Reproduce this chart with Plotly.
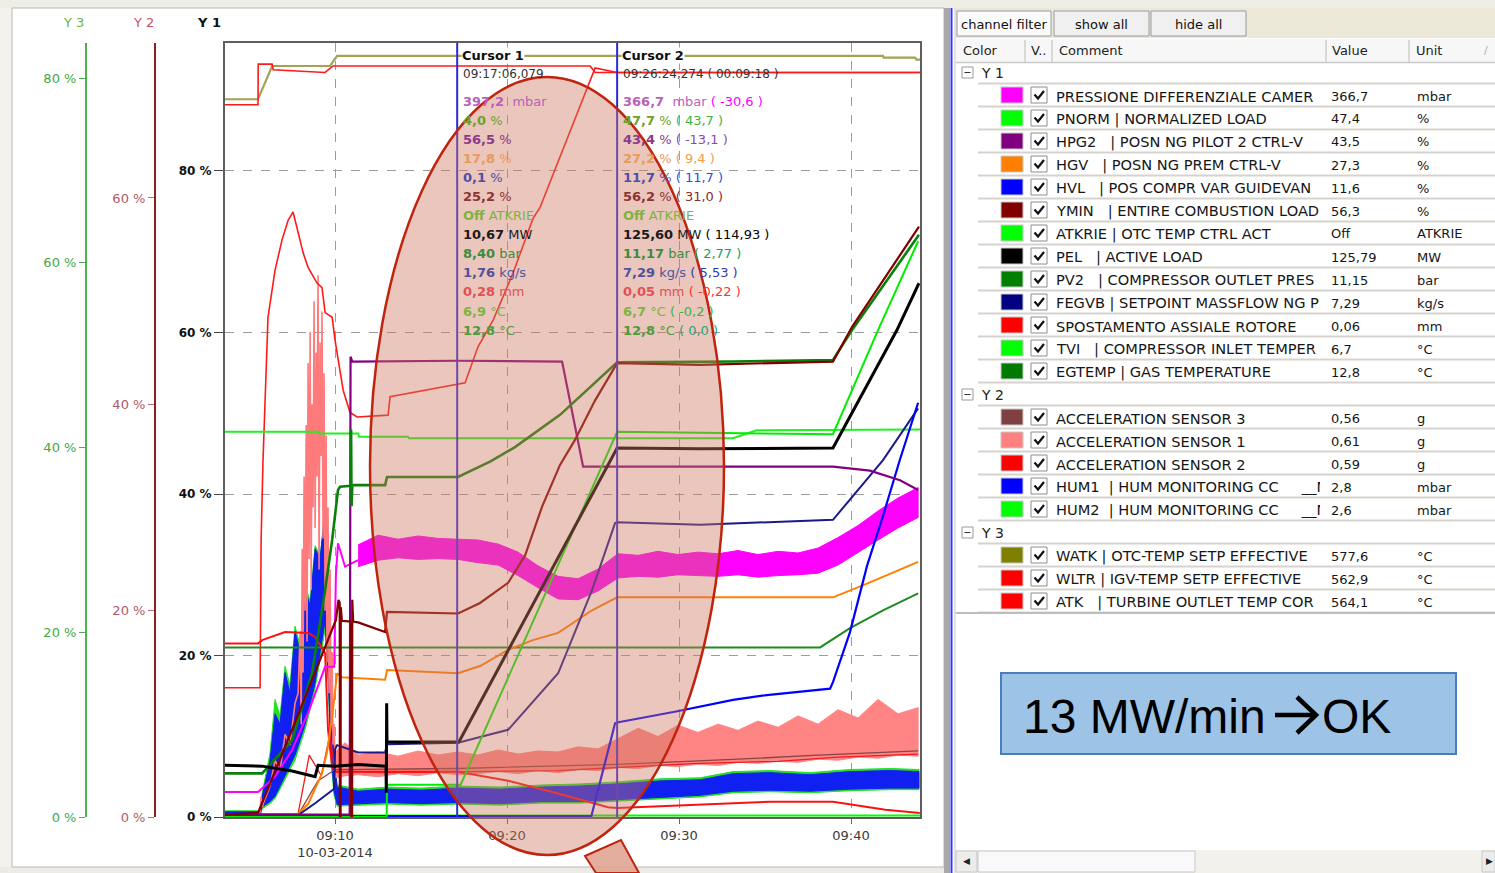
import pandas as pd
import plotly.graph_objects as go

W, H = 1495, 873
BASE = pd.Timestamp("2014-03-10 09:00:00")

# ---------------- Y1 channels (time: minutes after 09:00, value: % of Y1) ----------------
press_t = [3.60, 5.52, 6.51, 7.50, 8.43, 9.42, 9.95, 10.05, 10.17, 10.58, 11.34]
press_v = [3.1, 3.1, 5.0, 8.3, 12.9, 18.6, 18.6, 30.0, 33.9, 31.0, 31.8]
press_band_t = [11.34, 12.50, 13.66, 14.83, 15.99, 17.15, 18.31, 19.48, 20.64, 21.80, 22.97,
                24.13, 25.29, 26.45, 27.62, 28.78, 29.94, 31.10, 32.27, 33.43, 34.59, 35.76,
                36.92, 38.08, 39.24, 40.41, 41.57, 42.73, 43.90]
press_lo = [31.0, 31.8, 32.1, 31.9, 32.0, 31.9, 31.5, 31.2, 29.9, 28.4, 27.0, 26.9, 28.0, 29.6, 29.8,
            29.7, 30.0, 29.9, 29.8, 30.0, 29.7, 29.9, 30.0, 30.2, 31.2, 32.8, 34.3, 35.8, 37.1]
press_hi = [33.7, 34.9, 34.4, 34.8, 34.5, 34.4, 34.3, 33.8, 32.8, 31.1, 29.8, 29.5, 30.7, 32.6, 32.4,
            32.9, 32.5, 32.8, 32.6, 33.0, 32.5, 32.9, 32.7, 33.3, 34.6, 36.1, 37.9, 39.5, 40.8]

pnorm_t = [3.60, 13.00, 13.02, 17.30, 26.40, 33.14, 38.95, 41.57, 43.90]
pnorm_v = [0.0, 0.0, 4.0, 4.0, 47.7, 47.5, 47.4, 60.3, 71.3]

hpg2_t = [3.60, 10.85, 10.90, 11.00, 17.15, 23.20, 24.42, 26.40, 38.95, 41.10, 42.85, 43.90]
hpg2_v = [0.3, 0.3, 57.0, 56.4, 56.5, 56.4, 43.4, 43.4, 43.4, 42.9, 41.7, 40.5]

hgv_t = [3.60, 7.67, 8.43, 9.24, 9.53, 9.83, 10.12, 10.40, 12.91, 13.02, 17.15, 18.43, 20.06,
         21.50, 22.97, 24.94, 26.40, 38.95, 40.93, 43.90]
hgv_v = [0.0, 0.0, 1.6, 5.4, 8.0, 12.4, 17.8, 17.3, 17.0, 18.2, 17.8, 18.7, 20.7, 21.9, 22.8,
         25.6, 27.2, 27.2, 28.9, 31.6]

hvl_t = [3.60, 24.90, 26.28, 26.40, 29.90, 33.14, 35.10, 38.78, 38.95, 39.94, 40.93, 41.86, 42.85, 43.90]
hvl_v = [0.1, 0.1, 11.6, 11.7, 13.1, 14.5, 15.1, 15.9, 16.7, 22.9, 31.1, 37.3, 44.3, 51.3]

ymin_t = [3.60, 5.52, 7.50, 9.42, 10.05, 10.20, 10.27, 10.28, 10.32, 10.33, 10.40, 10.93, 10.94,
          10.99, 11.00, 11.05, 11.34, 12.91, 13.02, 17.15, 18.43, 20.06, 21.05, 22.03, 23.08,
          23.95, 25.12, 26.40, 31.22, 38.95, 40.06, 43.95]
ymin_v = [0.3, 0.5, 10.8, 21.1, 24.4, 26.9, 26.5, 0.0, 0.0, 26.0, 24.3, 24.2, 0.0, 0.0, 26.9,
          24.2, 24.1, 22.9, 25.4, 25.2, 26.5, 29.0, 32.4, 38.4, 43.6, 46.7, 51.6, 56.2, 56.0,
          56.4, 60.7, 73.1]

atkrie_t = [3.60, 44.01]
atkrie_v = [0.2, 0.2]

pel_t = [3.60, 5.76, 7.50, 8.84, 9.01, 10.00, 11.34, 12.96, 12.98, 13.00, 13.02, 17.20, 26.35,
         26.40, 31.22, 38.95, 42.67, 43.95]
pel_v = [6.4, 6.3, 5.7, 5.0, 6.4, 6.3, 6.5, 6.3, 3.0, 14.1, 9.3, 9.3, 45.5, 45.7, 45.6, 45.7, 60.3, 66.1]

pv2_t = [3.60, 5.76, 7.50, 8.66, 9.42, 9.83, 10.17, 10.29, 10.90, 10.93, 10.96, 11.00, 12.91,
         13.02, 17.15, 19.01, 20.46, 23.08, 26.40, 33.14, 38.95, 40.06, 43.95]
pv2_v = [5.4, 5.4, 9.5, 17.8, 28.1, 34.3, 40.5, 40.9, 41.0, 48.0, 38.5, 41.1, 41.1, 42.1, 42.1,
         44.0, 45.8, 49.8, 56.3, 56.4, 56.6, 60.3, 72.1]

fegvb_t = [3.60, 7.70, 8.84, 9.83, 9.95, 10.00, 10.12, 11.34, 12.91, 13.02, 17.15, 20.06, 22.97,
           24.94, 26.28, 26.40, 31.22, 38.95, 39.94, 41.86, 43.90]
fegvb_v = [0.0, 0.0, 1.7, 3.3, 3.5, 8.4, 8.9, 8.0, 8.0, 9.0, 9.2, 10.8, 17.8, 28.1, 36.4, 36.5,
           36.2, 36.8, 39.3, 44.2, 50.6]

spost_t = [3.60, 5.52, 5.76, 7.09, 8.43, 8.84, 9.42, 9.59, 9.83, 10.00, 17.15, 20.06, 22.97,
           25.87, 26.40, 30.06, 35.29, 38.95, 42.00, 44.00]
spost_v = [21.5, 21.5, 21.9, 22.9, 22.8, 22.3, 20.3, 10.8, 6.2, 5.6, 5.6, 4.5, 2.9, 1.2, 1.1,
           1.4, 1.9, 1.9, 0.9, 0.5]

tvi_t = [3.60, 9.01, 9.10, 11.34, 11.40, 14.24, 14.30, 33.14, 34.50, 44.01]
tvi_v = [47.7, 47.7, 47.5, 47.5, 47.1, 47.1, 46.9, 46.9, 47.9, 48.0]

egtemp_t = [3.60, 38.20, 39.94, 41.86, 43.90]
egtemp_v = [21.0, 21.0, 23.4, 25.6, 27.7]

# ---------------- Y2 channels (% of Y2) ----------------
hum_t = [3.60, 5.64, 5.76, 6.22, 6.51, 6.80, 7.09, 7.38, 7.67, 7.97, 8.26, 8.55, 8.84, 9.13,
         9.42, 9.59, 9.77, 9.94, 10.12, 11.34, 13.02, 15.00, 17.15, 19.60, 22.00, 24.24, 26.40,
         28.90, 31.22, 33.14, 35.29, 37.61, 39.94, 42.27, 43.95]
hum1_lo = [0.2, 0.2, 1.0, 1.5, 2.0, 3.0, 4.0, 5.0, 6.0, 7.5, 9.0, 11.0, 13.0, 16.0, 19.0, 14.0,
           6.0, 2.5, 1.2, 1.3, 1.4, 1.3, 1.4, 1.3, 1.5, 1.5, 1.7, 1.9, 2.1, 2.5, 2.6, 2.5, 2.7, 2.8, 2.8]
hum1_hi = [0.5, 0.5, 2.0, 5.5, 10.0, 9.0, 14.0, 12.0, 18.0, 16.0, 22.0, 20.5, 26.0, 25.0, 30.0,
           27.0, 12.0, 6.0, 2.9, 2.5, 2.7, 2.6, 2.8, 2.7, 2.9, 3.0, 3.2, 3.5, 3.6, 4.2, 4.3, 4.1, 4.4, 4.5, 4.4]
hum2_lo = [0.1, 0.1, 0.8, 1.3, 1.8, 2.7, 3.6, 4.6, 5.5, 7.0, 8.5, 10.4, 12.5, 15.3, 18.2, 13.2,
           5.4, 2.1, 1.05, 1.15, 1.25, 1.15, 1.25, 1.15, 1.35, 1.35, 1.55, 1.75, 1.95, 2.35, 2.45,
           2.35, 2.55, 2.65, 2.65]
hum2_hi = [0.6, 0.6, 2.3, 6.2, 11.4, 9.8, 14.6, 12.8, 18.5, 16.6, 22.3, 21.0, 26.3, 25.4, 29.0,
           26.0, 11.0, 5.5, 3.1, 2.7, 2.9, 2.8, 3.0, 2.9, 3.1, 3.2, 3.4, 3.7, 3.8, 4.4, 4.5, 4.3,
           4.6, 4.7, 4.6]

acc1_spk_t = [3.60, 5.52, 5.64, 5.70, 5.76, 6.22, 6.51, 6.80, 7.09, 7.38, 7.67, 7.85, 7.97, 8.03,
              8.09, 8.14, 8.20, 8.26, 8.32, 8.37, 8.43, 8.49, 8.55, 8.61, 8.66, 8.72, 8.78, 8.84,
              8.90, 8.95, 9.01, 9.07, 9.13, 9.19, 9.24, 9.30, 9.36, 9.42, 9.48, 9.53, 9.59, 9.65,
              9.71, 9.77, 9.83, 9.88, 9.94, 10.00]
acc1_spk_v = [0.3, 0.3, 0.5, 2.0, 1.0, 3.0, 5.5, 4.5, 8.0, 7.0, 11.0, 12.0, 18.0, 9.0, 26.0, 14.0,
              33.0, 20.0, 38.0, 17.0, 44.0, 25.0, 47.0, 22.0, 40.0, 30.0, 50.0, 28.0, 45.0, 33.0,
              52.5, 24.0, 46.0, 35.0, 49.0, 27.0, 43.0, 20.0, 37.0, 15.0, 30.0, 12.0, 24.0, 9.0,
              16.0, 7.0, 9.0, 5.5]
acc1_t = [10.00, 10.58, 11.34, 12.50, 13.66, 14.83, 15.99, 17.15, 18.31, 19.48, 20.64, 21.80,
          22.97, 24.13, 25.29, 26.45, 27.62, 28.78, 29.94, 31.10, 32.27, 33.43, 34.59, 35.76,
          36.92, 38.08, 39.24, 40.41, 41.57, 42.73, 43.90]
acc1_lo = [3.8, 4.0, 4.1, 3.9, 4.2, 4.0, 4.3, 4.1, 4.2, 4.4, 4.2, 4.5, 4.3, 4.6, 4.5, 4.8, 4.7,
           5.0, 4.9, 5.1, 5.0, 5.3, 5.2, 5.4, 5.3, 5.6, 5.5, 5.8, 5.7, 6.0, 5.9]
acc1_hi = [6.3, 7.2, 6.0, 6.3, 5.9, 6.4, 6.0, 6.3, 6.0, 6.5, 6.1, 6.4, 6.3, 6.8, 6.6, 7.6, 8.6,
           7.8, 8.9, 8.2, 9.0, 8.4, 9.3, 8.7, 9.8, 9.0, 10.4, 9.6, 11.4, 10.0, 10.6]

acc2_t = [3.60, 7.85, 8.50, 9.20, 9.70, 10.00, 13.02, 17.15, 22.97, 26.40, 31.10, 35.76, 39.24, 43.90]
acc2_v = [0.3, 0.3, 6.0, 4.0, 8.0, 4.4, 4.3, 4.4, 4.5, 4.8, 5.2, 5.4, 5.8, 6.1]
acc3_t = [3.60, 7.85, 9.00, 10.00, 17.15, 26.40, 33.43, 38.08, 43.90]
acc3_v = [0.2, 0.2, 3.5, 4.6, 4.7, 5.1, 5.6, 6.0, 6.4]

# ---------------- Y3 channels (% of Y3) ----------------
watk_t = [3.60, 5.52, 6.34, 9.71, 10.12, 41.86, 41.90, 43.72, 43.80, 44.01]
watk_v = [77.7, 77.7, 81.3, 81.3, 82.4, 82.4, 82.2, 82.2, 82.0, 82.0]
wltr_t = [3.60, 5.52, 5.53, 6.34, 6.40, 9.42, 9.88, 24.83, 25.12, 44.01]
wltr_v = [77.1, 77.1, 81.5, 81.5, 80.9, 80.6, 81.3, 81.3, 80.6, 80.6]
atk_t = [3.60, 5.64, 5.70, 5.81, 6.10, 6.51, 6.92, 7.27, 7.56, 8.14, 8.43, 8.95, 9.24, 9.42, 9.83,
         10.00, 10.47, 10.87, 11.28, 13.08, 13.20, 17.56, 18.31, 19.19, 20.35, 21.51, 21.92, 25.12,
         26.40, 44.01]
atk_v = [14.0, 14.0, 30.0, 38.6, 54.1, 59.2, 62.5, 64.6, 65.5, 61.1, 59.5, 57.8, 57.3, 54.6, 54.1,
         51.6, 46.2, 43.8, 43.3, 43.5, 45.5, 47.0, 50.9, 53.8, 58.9, 64.8, 66.0, 81.1, 80.6, 80.6]

# ---------------- axes ----------------
x_range_min = [3.60, 44.01]
x_tick_min = [10, 20, 30, 40]
x_tick_text = ["09:10<br>10-03-2014", "09:20", "09:30", "09:40"]
y1_ticks = [0, 20, 40, 60, 80]
y2_ticks = [0, 20, 40, 60]
y3_ticks = [0, 20, 40, 60, 80]
y1_max, y2_max, y3_max = 95.85, 75.02, 83.79

# ---------------- cursors ----------------
cursor_min = [17.10, 26.40]
cursor_titles = ["Cursor 1", "Cursor 2"]
cursor_times = ["09:17:06,079", "09:26:24,274 ( 00:09:18 )"]
cursor1_rows = [
    ("<b>397,2</b>  mbar", "#bb5fbb"), ("<b>4,0</b> %", "#6f9f2c"), ("<b>56,5</b> %", "#8c3b8c"),
    ("<b>17,8</b> %", "#e79a5c"), ("<b>0,1</b> %", "#4f4fa6"), ("<b>25,2</b> %", "#8b3535"),
    ("<b>Off</b> ATKRIE", "#7fb33f"), ("<b>10,67</b> MW", "#1a1a1a"), ("<b>8,40</b> bar", "#3d8b3d"),
    ("<b>1,76</b> kg/s", "#52529c"), ("<b>0,28</b> mm", "#e05252"), ("<b>6,9</b> °C", "#7fb33f"),
    ("<b>12,8</b> °C", "#4e9a3a")]
cursor2_rows = [
    ("<b>366,7</b>  mbar <span style='color:#ff00ff'>( -30,6 )</span>", "#bb5fbb"),
    ("<b>47,7</b> % <span style='color:#3cb43c'>( 43,7 )</span>", "#6f9f2c"),
    ("<b>43,4</b> % <span style='color:#8a4aa8'>( -13,1 )</span>", "#8c3b8c"),
    ("<b>27,2</b> % <span style='color:#f0a048'>( 9,4 )</span>", "#e79a5c"),
    ("<b>11,7</b> % <span style='color:#2f4fe0'>( 11,7 )</span>", "#4f4fa6"),
    ("<b>56,2</b> % <span style='color:#8b2a2a'>( 31,0 )</span>", "#8b3535"),
    ("<b>Off</b> ATKRIE", "#7fb33f"),
    ("<b>125,60</b> MW <span style='color:#000000'>( 114,93 )</span>", "#1a1a1a"),
    ("<b>11,17</b> bar <span style='color:#1aa05a'>( 2,77 )</span>", "#3d8b3d"),
    ("<b>7,29</b> kg/s <span style='color:#2b3bb8'>( 5,53 )</span>", "#52529c"),
    ("<b>0,05</b> mm <span style='color:#ff3030'>( -0,22 )</span>", "#e05252"),
    ("<b>6,7</b> °C <span style='color:#3cb43c'>( -0,2 )</span>", "#7fb33f"),
    ("<b>12,8</b> °C <span style='color:#2aa27a'>( 0,0 )</span>", "#4e9a3a")]

# ---------------- channel table (comments as shown in the narrow column) ----------------
group_names = ["Y 1", "Y 2", "Y 3"]
y1_comments = ["PRESSIONE DIFFERENZIALE CAMER", "PNORM | NORMALIZED LOAD",
               "HPG2\u00a0\u00a0 | POSN NG PILOT 2 CTRL-V", "HGV\u00a0\u00a0 | POSN NG PREM CTRL-V",
               "HVL\u00a0\u00a0 | POS COMPR VAR GUIDEVAN", "YMIN\u00a0\u00a0 | ENTIRE COMBUSTION LOAD",
               "ATKRIE | OTC TEMP CTRL ACT", "PEL\u00a0\u00a0 | ACTIVE LOAD",
               "PV2\u00a0\u00a0 | COMPRESSOR OUTLET PRES", "FEGVB | SETPOINT MASSFLOW NG P",
               "SPOSTAMENTO ASSIALE ROTORE", "TVI\u00a0\u00a0 | COMPRESSOR INLET TEMPER",
               "EGTEMP | GAS TEMPERATURE"]
y1_values = ["366,7", "47,4", "43,5", "27,3", "11,6", "56,3", "Off", "125,79", "11,15", "7,29",
             "0,06", "6,7", "12,8"]
y1_units = ["mbar", "%", "%", "%", "%", "%", "ATKRIE", "MW", "bar", "kg/s", "mm", "°C", "°C"]
y1_colors = ["#ff00ff", "#00ff00", "#800080", "#ff8000", "#0000ff", "#800000", "#00ff00",
             "#000000", "#008000", "#000080", "#ff0000", "#00ff00", "#007a00"]
y2_comments = ["ACCELERATION SENSOR 3", "ACCELERATION SENSOR 1", "ACCELERATION SENSOR 2",
               "HUM1\u00a0 | HUM MONITORING CC\u00a0\u00a0\u00a0\u00a0 __M",
               "HUM2\u00a0 | HUM MONITORING CC\u00a0\u00a0\u00a0\u00a0 __M"]
y2_values = ["0,56", "0,61", "0,59", "2,8", "2,6"]
y2_units = ["g", "g", "g", "mbar", "mbar"]
y2_colors = ["#804040", "#ff8080", "#ff0000", "#0000ff", "#00ff00"]
y3_comments = ["WATK | OTC-TEMP SETP EFFECTIVE", "WLTR | IGV-TEMP SETP EFFECTIVE",
               "ATK\u00a0\u00a0 | TURBINE OUTLET TEMP COR"]
y3_values = ["577,6", "562,9", "564,1"]
y3_units = ["°C", "°C", "°C"]
y3_colors = ["#808000", "#ff0000", "#ff0000"]

note_left = "13 MW/min"
note_right = "OK"

FONT = "DejaVu Sans"


def tm(minutes):
    return [BASE + pd.Timedelta(minutes=m) for m in minutes]


def px(x):
    return x / W


def py(y):
    return 1 - y / H


fig = go.Figure()


def add_line(t, v, color, width=2.0, axis="y4"):
    fig.add_trace(go.Scatter(x=tm(t), y=v, mode="lines", yaxis=axis,
                             line=dict(color=color, width=width), hoverinfo="skip",
                             showlegend=False))


def add_band(t, lo, hi, color, axis):
    fig.add_trace(go.Scatter(x=tm(t) + tm(t[::-1]), y=list(hi) + list(lo[::-1]), mode="lines",
                             yaxis=axis, fill="toself", fillcolor=color,
                             line=dict(color=color, width=1), hoverinfo="skip", showlegend=False))


# base Y1 subplot
add_line(atkrie_t, atkrie_v, "#00ff00", 2, "y")

# Y2 traces
add_band(hum_t, hum2_lo, hum2_hi, "#22e022", "y2")
add_band(hum_t, hum1_lo, hum1_hi, "#1020f0", "y2")
add_line(acc1_spk_t, acc1_spk_v, "#ff7a7a", 1.6, "y2")
add_band(acc1_t, acc1_lo, acc1_hi, "#ff8585", "y2")
add_line(acc3_t, acc3_v, "#8b4343", 1.3, "y2")
add_line(acc2_t, acc2_v, "#ee1c1c", 1.3, "y2")

# Y3 traces
add_line(watk_t, watk_v, "#a3a352", 2.2, "y3")
add_line(wltr_t, wltr_v, "#ff1a1a", 1.6, "y3")
add_line(atk_t, atk_v, "#ff1a1a", 1.6, "y3")

# remaining Y1 traces (drawn on top, same scale as Y1)
add_line(egtemp_t, egtemp_v, "#1f8a1f", 2, "y4")
add_line(tvi_t, tvi_v, "#22f022", 2, "y4")
add_line(spost_t, spost_v, "#ff1010", 2, "y4")
add_line(press_t, press_v, "#ff00ff", 2, "y4")
add_band(press_band_t, press_lo, press_hi, "#ff00ff", "y4")
add_line(hgv_t, hgv_v, "#ff8000", 2, "y4")
add_line(fegvb_t, fegvb_v, "#1a1a8c", 2, "y4")
add_line(hvl_t, hvl_v, "#0000ff", 2.2, "y4")
add_line(hpg2_t, hpg2_v, "#800080", 2.2, "y4")
add_line(pnorm_t, pnorm_v, "#00ee00", 2, "y4")
add_line(pv2_t, pv2_v, "#0a800a", 2.6, "y4")
add_line(ymin_t, ymin_v, "#800000", 2.2, "y4")
add_line(pel_t, pel_v, "#000000", 3.0, "y4")

plot_dom = [py(817), py(43)]

fig.update_layout(
    width=W, height=H, margin=dict(l=0, r=0, t=0, b=0, autoexpand=False),
    paper_bgcolor="white", plot_bgcolor="white", showlegend=False,
    xaxis=dict(domain=[px(225), px(920)], type="date", range=tm(x_range_min), automargin=False,
               tickvals=tm(x_tick_min), ticktext=x_tick_text, ticks="outside", ticklen=5,
               tickcolor="#666666", showline=True, linecolor="#5e5e5e", linewidth=2, mirror=True,
               showgrid=True, gridcolor="#9c9c9c", griddash="dash", gridwidth=1, zeroline=False,
               tickfont=dict(family=FONT, size=13, color="#3a3a3a"), anchor="y"),
    yaxis=dict(domain=plot_dom, range=[0, y1_max], tickvals=y1_ticks, automargin=False,
               ticktext=[f"<b>{v} %</b>" for v in y1_ticks], ticks="outside", ticklen=9,
               tickcolor="#444444", tickfont=dict(family=FONT, size=12, color="#111111"),
               showline=True, linecolor="#5e5e5e", linewidth=2, mirror=True, showgrid=True,
               gridcolor="#9c9c9c", griddash="dash", zeroline=False),
    yaxis2=dict(overlaying="y", anchor="free", position=px(155), side="left", range=[0, y2_max],
                tickvals=y2_ticks, ticktext=[f"{v} %" for v in y2_ticks], ticks="outside",
                ticklen=6, tickcolor="#b46a78", showline=True, linecolor="#8e1f1f", linewidth=2,
                showgrid=False, zeroline=False, automargin=False,
                tickfont=dict(family=FONT, size=13, color="#b0596a")),
    yaxis3=dict(overlaying="y", anchor="free", position=px(86), side="left", range=[0, y3_max],
                tickvals=y3_ticks, ticktext=[f"{v} %" for v in y3_ticks], ticks="outside",
                ticklen=6, tickcolor="#4caf50", showline=True, linecolor="#4caf50", linewidth=2,
                showgrid=False, zeroline=False, automargin=False,
                tickfont=dict(family=FONT, size=13, color="#45a845")),
    yaxis4=dict(overlaying="y", anchor="x", range=[0, y1_max], visible=False, automargin=False),
)

shapes = []
ann = []


def rect(x0, y0, x1, y1, fill=None, line=None, lw=1, layer="below"):
    shapes.append(dict(type="rect", xref="paper", yref="paper", x0=px(x0), x1=px(x1),
                       y0=py(y1), y1=py(y0), fillcolor=fill or "rgba(0,0,0,0)",
                       line=dict(color=line or "rgba(0,0,0,0)", width=lw if line else 0),
                       layer=layer))


def hline(x0, x1, y, color, lw=1, layer="below"):
    shapes.append(dict(type="line", xref="paper", yref="paper", x0=px(x0), x1=px(x1),
                       y0=py(y), y1=py(y), line=dict(color=color, width=lw), layer=layer))


def vline(x, y0, y1, color, lw=1):
    shapes.append(dict(type="line", xref="paper", yref="paper", x0=px(x), x1=px(x),
                       y0=py(y0), y1=py(y1), line=dict(color=color, width=lw), layer="below"))


def text(x, y, s, size=13, color="#111111", xanchor="left", family=FONT, **kw):
    ann.append(dict(xref="paper", yref="paper", x=px(x), y=py(y), text=s, showarrow=False,
                    xanchor=xanchor, yanchor="middle",
                    font=dict(family=family, size=size, color=color), **kw))


# window chrome around the chart panel
rect(0, 0, 1495, 8, fill="#eeede6")
rect(0, 8, 12, 873, fill="#f3f2ec")
rect(0, 867, 945, 873, fill="#ecebe5")
rect(12, 8, 944, 867, line="#b8b8b8", lw=1)
rect(944, 8, 950, 873, fill="#a9a9a9")
vline(951.5, 8, 873, "#3333ff", 2)
vline(955, 8, 873, "#c4c4c4", 1)

# axis captions
text(86, 22, "Y 3", 13, "#6cb33f", xanchor="right")
text(156, 22, "Y 2", 13, "#c4506a", xanchor="right")
text(223, 22, "<b>Y 1</b>", 13, "#111111", xanchor="right")

# ---- channel table panel ----
rect(956, 8, 1495, 38, fill="#ebe8d8")
rect(957, 11, 1051, 36, fill="#fbfbfb", line="#9a9a9a")
rect(1054, 11, 1149, 36, fill="#f0f0f0", line="#9a9a9a")
rect(1151, 11, 1246, 36, fill="#f0f0f0", line="#9a9a9a")
text(1004, 24, "channel filter", 13, "#111111", xanchor="center")
text(1101, 24, "show all", 13, "#111111", xanchor="center")
text(1198, 24, "hide all", 13, "#111111", xanchor="center")

rect(956, 39, 1495, 62, fill="#f7f7f7")
hline(956, 1495, 62.5, "#c9c9c9", 1.5)
for xs in [1025, 1052, 1326, 1409]:
    vline(xs, 40, 62, "#cfcfcf", 1.5)
text(961, 50, "Color", 13, "#222222")
text(1029, 50, "V..", 13, "#222222")
text(1057, 50, "Comment", 13, "#222222")
text(1330, 50, "Value", 13, "#222222")
text(1414, 50, "Unit", 13, "#222222")
text(1482, 50, "/", 11, "#b0b0b0")

groups = [(y1_comments, y1_values, y1_units, y1_colors),
          (y2_comments, y2_values, y2_units, y2_colors),
          (y3_comments, y3_values, y3_units, y3_colors)]
row_y = 72
for gname, (coms, vals, units, cols) in zip(group_names, groups):
    # group header
    rect(962, row_y - 5, 973, row_y + 6, fill="white", line="#9a9a9a")
    hline(964.5, 970.5, row_y + 0.5, "#333333", 1)
    text(979, row_y + 1, gname, 14, "#222222")
    hline(978, 1495, row_y + 11.5, "#d6d3ce", 2)
    row_y += 23
    for com, val, unit, col in zip(coms, vals, units, cols):
        rect(1001, row_y - 8, 1023, row_y + 8, fill=col, line="#c8c8c8")
        rect(1031, row_y - 8, 1047, row_y + 8, fill="white", line="#8c8c8c")
        shapes.append(dict(type="path", xref="paper", yref="paper", layer="below",
                           path=f"M {px(1034.5)},{py(row_y - 0.5)} L {px(1038)},{py(row_y + 3.5)} "
                                f"L {px(1044)},{py(row_y - 4)}",
                           line=dict(color="#111111", width=2.2)))
        text(1054, row_y + 1, com, 14.6, "#161616", width=264, align="left")
        text(1329, row_y + 1, val, 13, "#161616")
        text(1415, row_y + 1, unit, 13, "#161616")
        hline(978, 1495, row_y + 11.5, "#d6d3ce", 2)
        row_y += 23
hline(956, 1495, row_y - 11, "#bdbdbd", 2)

# note box with its arrow glyph
rect(1001, 673, 1456, 754, fill="#9dc3e6", line="#4a7ebb", lw=2)
text(1021, 716, note_left, 48, "#000000", family="Liberation Sans, Arial, sans-serif")
text(1320, 716, note_right, 48, "#000000", family="Liberation Sans, Arial, sans-serif")
hline(1275, 1314, 715, "#000000", 4.5, layer="above")
shapes.append(dict(type="path", xref="paper", yref="paper", layer="above",
                   path=f"M {px(1297)},{py(697)} L {px(1316)},{py(715)} L {px(1297)},{py(733)}",
                   line=dict(color="#000000", width=4.5)))

# horizontal scroll bar
rect(956, 850, 1495, 873, fill="#f3f1ec")
rect(956, 851, 977, 872, fill="#ececec", line="#c8c8c8")
rect(978, 851, 1195, 872, fill="#f9f8fa", line="#c8c8c8")
rect(1482, 851, 1495, 872, fill="#ececec", line="#c8c8c8")
text(967, 861, "\u25c0", 9, "#222222", xanchor="center")
text(1489, 861, "\u25b6", 9, "#222222", xanchor="center")

# ---- cursors ----
for cm in cursor_min:
    shapes.append(dict(type="line", xref="x", yref="paper", x0=tm([cm])[0], x1=tm([cm])[0],
                       y0=plot_dom[0], y1=plot_dom[1], line=dict(color="#2a2ad8", width=2),
                       layer="above"))

# highlight ellipse and its pointer tail
hl_fill = "rgba(205,120,95,0.42)"
hl_line = "#c0240e"
shapes.append(dict(type="circle", xref="paper", yref="paper", x0=px(370), x1=px(724),
                   y0=py(855), y1=py(77), fillcolor=hl_fill, line=dict(color=hl_line, width=2.5),
                   layer="above"))
shapes.append(dict(type="path", xref="paper", yref="paper", layer="above",
                   path=f"M {px(585)},{py(856)} L {px(621)},{py(840)} L {px(639)},{py(873)} "
                        f"L {px(596)},{py(873)} Z",
                   fillcolor="rgba(222,160,140,0.85)", line=dict(color=hl_line, width=2)))

row0, row_step = 101, 19.1
for ci, (cm, title, tstamp, rows) in enumerate(zip(cursor_min, cursor_titles, cursor_times,
                                                   [cursor1_rows, cursor2_rows])):
    xc = tm([cm])[0]
    ann.append(dict(xref="x", yref="paper", x=xc, y=py(55), text=f"<b>{title}</b>", xanchor="left",
                    yanchor="middle", showarrow=False, xshift=4, bgcolor="white", borderpad=0,
                    font=dict(family=FONT, size=13, color="#111111")))
    ann.append(dict(xref="x", yref="paper", x=xc, y=py(74), text=tstamp, xanchor="left",
                    yanchor="middle", showarrow=False, xshift=4,
                    font=dict(family=FONT, size=12, color="#333333")))
    for i, (s, c) in enumerate(rows):
        ann.append(dict(xref="x", yref="paper", x=xc, y=py(row0 + row_step * i), text=s,
                        xanchor="left", yanchor="middle", showarrow=False, xshift=4,
                        font=dict(family=FONT, size=13, color=c)))

fig.update_layout(shapes=shapes, annotations=ann)
fig.write_html("out.html")
